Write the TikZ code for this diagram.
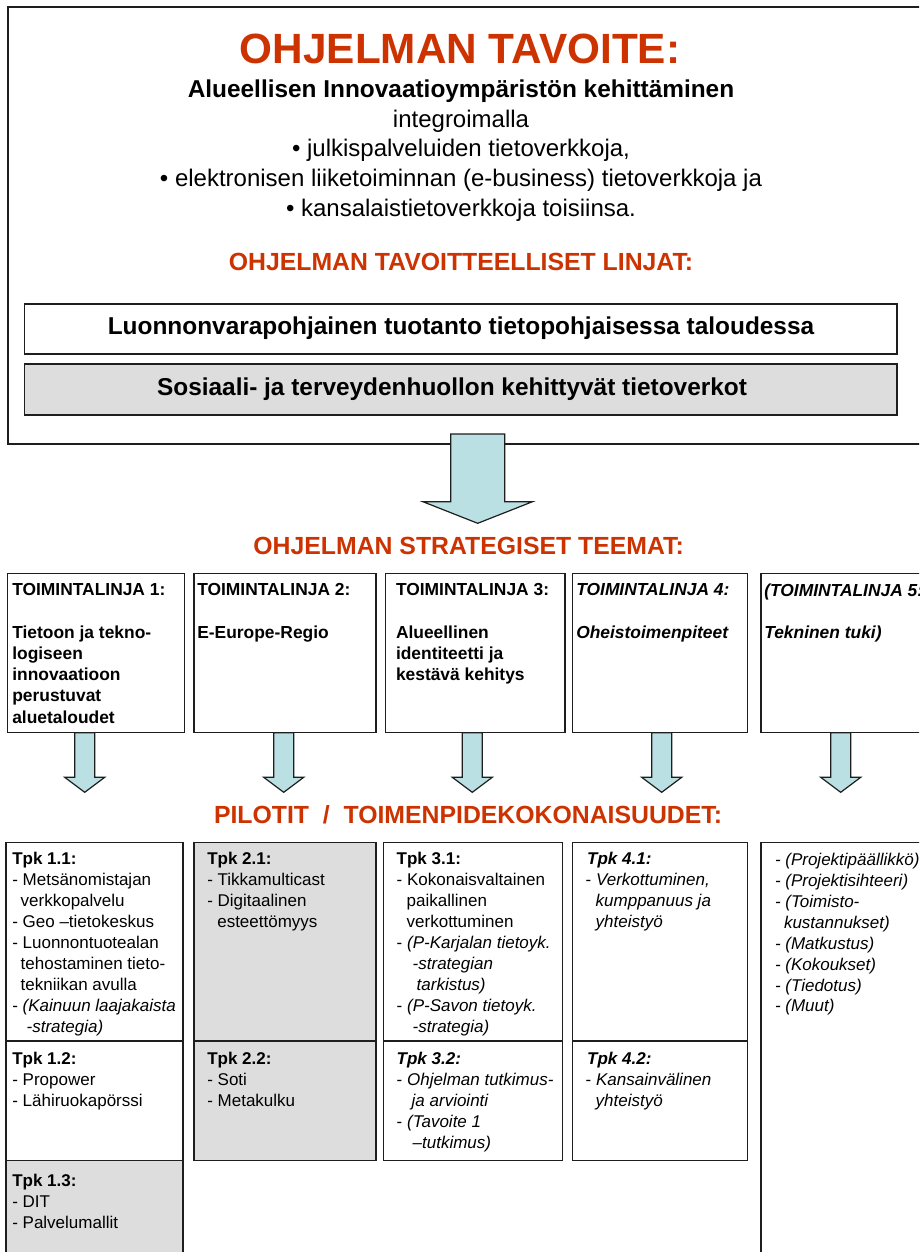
\documentclass[tikz,border=0pt]{standalone}
\usepackage{fontspec}
\setmainfont{Liberation Sans}
\usetikzlibrary{calc}
\definecolor{hdr}{RGB}{204,51,0}
\definecolor{arrowfill}{RGB}{187,224,227}
\definecolor{cellgray}{RGB}{221,221,221}
\definecolor{edge}{RGB}{30,30,30}
\begin{document}
\begin{tikzpicture}[x=1pt,y=-1pt,
  frame/.style={draw=edge, line width=1.2pt, inner sep=0pt, outer sep=0pt, anchor=north west},
  grayfill/.style={fill=cellgray},
  heading/.style={text=hdr, font=\fontsize{24.8}{28}\selectfont\bfseries, inner sep=0pt, anchor=base},
  body/.style={inner sep=0pt, anchor=base, font=\fontsize{24}{28}\selectfont},
  boldbody/.style={body, font=\fontsize{24.4}{28}\selectfont\bfseries},
  txt/.style={inner sep=0pt, outer sep=0pt, anchor=north west, align=left,
    font=\fontsize{17}{20.95}\selectfont, execute at begin node={\rule{0pt}{13pt}}},
  theme/.style={txt, font=\fontsize{17.4}{21.2}\selectfont\bfseries},
  arrowbody/.style={draw=edge, line width=1.2pt, fill=arrowfill, line join=miter},
  pics/downarrow/.style n args={4}{code={
    % #1 shaft half width, #2 head half width, #3 shaft length, #4 head length
    \draw[arrowbody] (-#1,0) -- (-#1,#3) -- (-#2,#3) -- (0,#3+#4)
      -- (#2,#3) -- (#1,#3) -- (#1,0) -- cycle;
  }}
]
\useasboundingbox (0,0) rectangle (919,1252);
\clip (0,0) rectangle (919,1252);
\fill[white] (0,0) rectangle (919,1252);

% ---------- programme goal ----------
\node[frame, minimum width=940pt, minimum height=437pt] (goalbox) at (8,7) {};
\node[anchor=base, inner sep=0pt, text=hdr, font=\fontsize{42.3}{48}\selectfont\bfseries] (goal) at (460,64) {OHJELMAN TAVOITE:};
\node[boldbody] (g1) at (461,98) {Alueellisen Innovaatioympäristön kehittäminen};
\node[body] (g2) at (461,127.5) {integroimalla};
\node[body] (g3) at (461,157) {• julkispalveluiden tietoverkkoja,};
\node[body] (g4) at (461,186.5) {• elektronisen liiketoiminnan (e-business) tietoverkkoja ja};
\node[body] (g5) at (461,216) {• kansalaistietoverkkoja toisiinsa.};

\node[heading] (linesHead) at (461,270) {OHJELMAN TAVOITTEELLISET LINJAT:};
\node[frame, minimum width=872.4pt, minimum height=50pt] (line1) at (24.6,304) {};
\node[boldbody] (line1t) at (461,334.5) {Luonnonvarapohjainen tuotanto tietopohjaisessa taloudessa};
\node[frame, grayfill, minimum width=872.4pt, minimum height=51pt] (line2) at (24.6,364) {};
\node[boldbody] (line2t) at (452,395.5) {Sosiaali- ja terveydenhuollon kehittyvät tietoverkot};

% big arrow out of the goal box
\coordinate (bigtop) at (477.7,434);
\pic at (bigtop) {downarrow={27}{54.8}{67.7}{21.6}};

% ---------- strategic themes ----------
\node[heading] (themeHead) at (468.6,554) {OHJELMAN STRATEGISET TEEMAT:};

\node[frame, minimum width=177pt, minimum height=159.4pt] (t1) at (7.3,573.3) {};
\node[frame, minimum width=182pt, minimum height=159.4pt] (t2) at (194,573.3) {};
\node[frame, minimum width=179.3pt, minimum height=159.4pt] (t3) at (385.7,573.3) {};
\node[frame, minimum width=175.4pt, minimum height=159.4pt] (t4) at (572.3,573.3) {};
\node[frame, minimum width=180pt, minimum height=159.4pt] (t5) at (761,573.3) {};

\node[theme] (t1t) at (12.3,583.8) {TOIMINTALINJA 1:\\[21.2pt]Tietoon ja tekno-\\logiseen\\innovaatioon\\perustuvat\\aluetaloudet};
\node[theme] (t2t) at (197.3,583.8) {TOIMINTALINJA 2:\\[21.2pt]E-Europe-Regio};
\node[theme] (t3t) at (396,583.8) {TOIMINTALINJA 3:\\[21.2pt]Alueellinen\\identiteetti ja\\kestävä kehitys};
\node[theme, font=\fontsize{17.4}{21.2}\selectfont\bfseries\itshape] (t4t) at (576.3,583.8) {TOIMINTALINJA 4:\\[21.2pt]Oheistoimenpiteet};
\node[theme, font=\fontsize{17.4}{21.2}\selectfont\bfseries\itshape] (t5t) at (764.3,583.8) {(TOIMINTALINJA 5:\\[21.2pt]Tekninen tuki)};

% arrows from the themes down to the pilots
\coordinate (a1) at (t1.south -| 84.7,0);
\coordinate (a2) at (t2.south -| 283.7,0);
\coordinate (a3) at (t3.south -| 472.3,0);
\coordinate (a4) at (t4.south -| 661.7,0);
\coordinate (a5) at (t5.south -| 840.7,0);
\foreach \a in {a1,a2,a3,a4,a5}
  \pic at (\a) {downarrow={10}{20}{44.6}{15}};

% ---------- pilots ----------
\node[heading] (pilotHead) at (468,823) {PILOTIT~~/~~TOIMENPIDEKOKONAISUUDET:};

\node[frame, minimum width=177pt, minimum height=198.7pt] (p11) at (6,842.3) {};
\node[frame, minimum width=177pt, minimum height=119.7pt] (p12) at (6,1041) {};
\node[frame, grayfill, minimum width=177pt, minimum height=120pt] (p13) at (6,1160.7) {};
\node[frame, grayfill, minimum width=182pt, minimum height=198.7pt] (p21) at (194,842.3) {};
\node[frame, grayfill, minimum width=182pt, minimum height=119.7pt] (p22) at (194,1041) {};
\node[frame, minimum width=179pt, minimum height=198.7pt] (p31) at (383.3,842.3) {};
\node[frame, minimum width=179pt, minimum height=119.7pt] (p32) at (383.3,1041) {};
\node[frame, minimum width=175.4pt, minimum height=198.7pt] (p41) at (572.3,842.3) {};
\node[frame, minimum width=175.4pt, minimum height=119.7pt] (p42) at (572.3,1041) {};
\node[frame, minimum width=180pt, minimum height=440pt] (p5) at (761,842.3) {};

\node[txt] (p11t) at (12.3,852.5) {\textbf{Tpk 1.1:}\\- Metsänomistajan\\\hspace*{8.4pt}verkkopalvelu\\- Geo –tietokeskus\\- Luonnontuotealan\\\hspace*{8.4pt}tehostaminen tieto-\\\hspace*{8.4pt}tekniikan avulla\\- \textit{(Kainuun laajakaista}\\\hspace*{14.4pt}\textit{-strategia)}};
\node[txt] (p12t) at (12.3,1052.5) {\textbf{Tpk 1.2:}\\- Propower\\- Lähiruokapörssi};
\node[txt] (p13t) at (12.3,1174) {\textbf{Tpk 1.3:}\\- DIT\\- Palvelumallit};
\node[txt] (p21t) at (207.3,852.5) {\textbf{Tpk 2.1:}\\- Tikkamulticast\\- Digitaalinen\\\hspace*{10pt}esteettömyys};
\node[txt] (p22t) at (207.3,1052.5) {\textbf{Tpk 2.2:}\\- Soti\\- Metakulku};
\node[txt] (p31t) at (396.7,852.5) {\textbf{Tpk 3.1:}\\- Kokonaisvaltainen\\\hspace*{10pt}paikallinen\\\hspace*{10pt}verkottuminen\\- \textit{(P-Karjalan tietoyk.}\\\hspace*{16pt}\textit{-strategian}\\\hspace*{20pt}\textit{tarkistus)}\\- \textit{(P-Savon tietoyk.}\\\hspace*{16pt}\textit{-strategia)}};
\node[txt] (p32t) at (396.7,1052.5) {\textbf{\textit{Tpk 3.2:}}\\- \textit{Ohjelman tutkimus-}\\\hspace*{15pt}\textit{ja arviointi}\\- \textit{(Tavoite 1}\\\hspace*{16pt}\textit{–tutkimus)}};
\node[txt] (p41t) at (585.7,852.5) {\hspace*{1.5pt}\textbf{\textit{Tpk 4.1:}}\\- \textit{Verkottuminen,}\\\hspace*{10pt}\textit{kumppanuus ja}\\\hspace*{10pt}\textit{yhteistyö}};
\node[txt] (p42t) at (585.7,1052.5) {\hspace*{1.5pt}\textbf{\textit{Tpk 4.2:}}\\- \textit{Kansainvälinen}\\\hspace*{10pt}\textit{yhteistyö}};
\node[txt, font=\fontsize{17}{20.95}\selectfont\itshape] (p5t) at (775,853) {- (Projektipäällikkö)\\- (Projektisihteeri)\\- (Toimisto-\\\hspace*{9pt}kustannukset)\\- (Matkustus)\\- (Kokoukset)\\- (Tiedotus)\\- (Muut)};
\end{tikzpicture}
\end{document}
